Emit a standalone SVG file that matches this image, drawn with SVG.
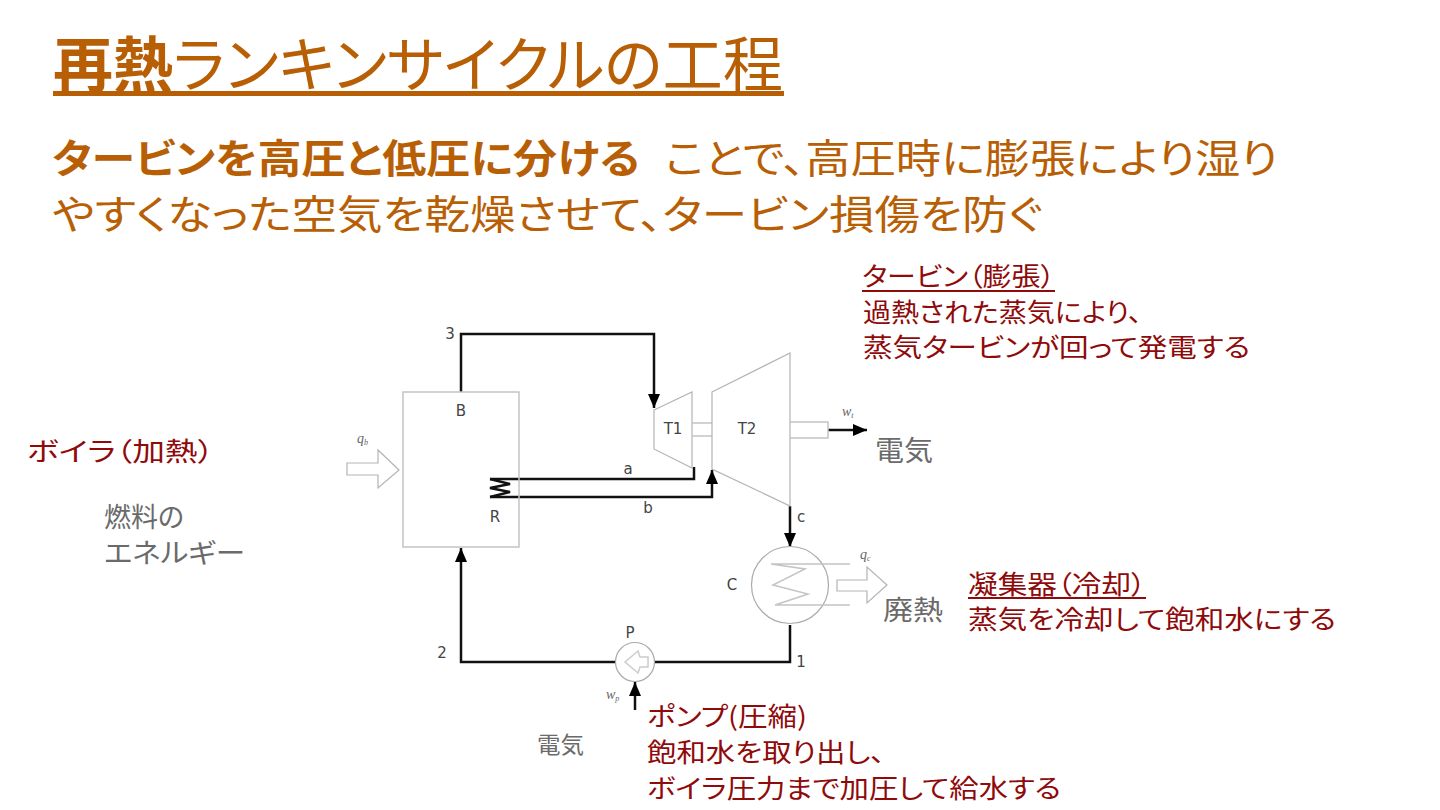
<svg xmlns="http://www.w3.org/2000/svg" width="1440" height="810" viewBox="0 0 1440 810">
<defs>
<marker id="ah" markerUnits="userSpaceOnUse" markerWidth="16" markerHeight="14" refX="15" refY="7" orient="auto" viewBox="0 0 16 14"><path d="M1 1L15 7L1 13Z" fill="#000"/></marker>
</defs>
<style>
text{font-family:"Noto Sans CJK JP","Noto Sans",sans-serif;font-feature-settings:"palt"}
.o{fill:#b85f06}
.r{fill:#8f0a0a;font-size:26px}
.g{fill:#6a6a6a}
.l{font-family:"DejaVu Sans",sans-serif;font-size:15px;fill:#444}
.q{font-family:"Liberation Serif",serif;font-size:14px;fill:#666;font-style:italic}
.box{fill:#fff;stroke:#c4c4c4;stroke-width:1.500}
.thin{fill:none;stroke:#c4c4c4;stroke-width:1.500}
.dash{fill:#fff;stroke:#b4b4b4;stroke-width:1.200}
.pipe{fill:none;stroke:#111;stroke-width:2.500}
</style>
<rect width="1440" height="810" fill="#fff"/>
<g id="title">
<text class="o" x="53" y="87" font-size="60" font-weight="700" textLength="120" lengthAdjust="spacingAndGlyphs">再熱</text>
<text class="o" x="173" y="87" font-size="60" textLength="610" lengthAdjust="spacingAndGlyphs">ランキンサイクルの工程</text>
<rect x="53" y="91" width="731" height="5" fill="#b85f06"/>
</g>
<g id="subtitle">
<text class="o" x="52" y="173" font-size="40" font-weight="700" textLength="588" lengthAdjust="spacingAndGlyphs">タービンを高圧と低圧に分ける</text>
<text class="o" x="665" y="173" font-size="40" textLength="613" lengthAdjust="spacingAndGlyphs">ことで、高圧時に膨張により湿り</text>
<text class="o" x="52" y="229" font-size="40" textLength="990" lengthAdjust="spacingAndGlyphs">やすくなった空気を乾燥させて、タービン損傷を防ぐ</text>
</g>
<g id="connectors">
<path class="pipe" d="M461 392V334H654V408" marker-end="url(#ah)"/>
<path class="pipe" d="M490 479H694V467"/>
<path class="pipe" d="M490 497H712V470" marker-end="url(#ah)"/>
<path class="pipe" d="M790 506V547" marker-end="url(#ah)"/>
<path class="pipe" d="M790 625V662H461V548" marker-end="url(#ah)"/>
<path class="pipe" d="M635 710V682" marker-end="url(#ah)"/>
<path class="pipe" d="M828 430H867" marker-end="url(#ah)"/>
</g>
<g id="boiler">
<rect class="box" x="403" y="392" width="116" height="155" style="fill:none"/>
<text class="l" x="461" y="416" text-anchor="middle">B</text>
<text class="l" x="495" y="522" text-anchor="middle">R</text>
<path d="M490 479L510 484L490 488L510 492L490 497" fill="none" stroke="#111" stroke-width="2.500"/>
<path class="dash" d="M347 463H378V450L399 470L378 488V475H347Z"/>
<text class="q" x="357" y="443">q<tspan font-size="8" dy="2">b</tspan></text>
</g>
<g id="turbine-t1">
<path class="dash" d="M654 410L692 392V468L654 449Z"/>
<text class="l" x="673" y="434" text-anchor="middle">T1</text>
</g>
<g id="shaft">
<path class="thin" d="M692 423H712M692 436H712"/>
<path class="thin" d="M790 422H828V438H790"/>
</g>
<g id="turbine-t2">
<path class="dash" d="M712 392L790 353V506L712 469Z"/>
<text class="l" x="747" y="434" text-anchor="middle">T2</text>
<text class="q" x="842" y="416">w<tspan font-size="8" dy="2">t</tspan></text>
</g>
<g id="condenser">
<circle cx="790" cy="585" r="38.500" fill="#fff" stroke="#aaa" stroke-width="1.200"/>
<path class="thin" d="M771 564H850M771 564L805 569L773 585L808 594L775 605H850"/>
<path class="dash" d="M837 580H867V567L887 585L867 603V591H837Z"/>
<text class="l" x="732" y="590" text-anchor="middle">C</text>
<text class="q" x="860" y="559">q<tspan font-size="8" dy="2">c</tspan></text>
</g>
<g id="pump">
<circle cx="635" cy="662" r="19.500" fill="#fff" stroke="#aaa" stroke-width="1.200"/>
<path d="M638 651L625 662L638 673L640 667H648V657H640Z" fill="none" stroke="#ccc" stroke-width="1.500"/>
<text class="l" x="630" y="638" text-anchor="middle">P</text>
<text class="q" x="606" y="699">w<tspan font-size="8" dy="2">p</tspan></text>
</g>
<g id="state-labels">
<text class="l" x="450" y="339" text-anchor="middle">3</text>
<text class="l" x="442" y="658" text-anchor="middle">2</text>
<text class="l" x="801" y="667" text-anchor="middle">1</text>
<text class="l" x="628" y="474" text-anchor="middle">a</text>
<text class="l" x="648" y="513" text-anchor="middle">b</text>
<text class="l" x="801" y="522" text-anchor="middle">c</text>
</g>
<g id="note-turbine">
<text class="r" x="862" y="286" textLength="193" lengthAdjust="spacingAndGlyphs">タービン（膨張）</text>
<rect x="862" y="290" width="193" height="2" fill="#8f0a0a"/>
<text class="r" x="863" y="322" textLength="279" lengthAdjust="spacingAndGlyphs">過熱された蒸気により、</text>
<text class="r" x="863" y="357" textLength="387" lengthAdjust="spacingAndGlyphs">蒸気タービンが回って発電する</text>
</g>
<g id="note-boiler">
<text class="r" x="27" y="461" textLength="187" lengthAdjust="spacingAndGlyphs">ボイラ（加熱）</text>
<text class="g" x="104" y="527" font-size="27">燃料の</text>
<text class="g" x="104" y="563" font-size="27" textLength="141" lengthAdjust="spacingAndGlyphs">エネルギー</text>
</g>
<g id="note-electric">
<text class="g" x="875" y="461" font-size="28" textLength="58" lengthAdjust="spacingAndGlyphs">電気</text>
<text class="g" x="537" y="753" font-size="23" textLength="47" lengthAdjust="spacingAndGlyphs">電気</text>
<text class="g" x="883" y="620" font-size="27" textLength="60" lengthAdjust="spacingAndGlyphs">廃熱</text>
</g>
<g id="note-condenser">
<text class="r" x="968" y="594" textLength="178" lengthAdjust="spacingAndGlyphs">凝集器（冷却）</text>
<rect x="968" y="597" width="178" height="2" fill="#8f0a0a"/>
<text class="r" x="968" y="629" textLength="368" lengthAdjust="spacingAndGlyphs">蒸気を冷却して飽和水にする</text>
</g>
<g id="note-pump">
<text class="r" x="647" y="726" textLength="160" lengthAdjust="spacingAndGlyphs">ポンプ(圧縮)</text>
<text class="r" x="647" y="762" textLength="238" lengthAdjust="spacingAndGlyphs">飽和水を取り出し、</text>
<text class="r" x="647" y="798" textLength="414" lengthAdjust="spacingAndGlyphs">ボイラ圧力まで加圧して給水する</text>
</g>
</svg>
